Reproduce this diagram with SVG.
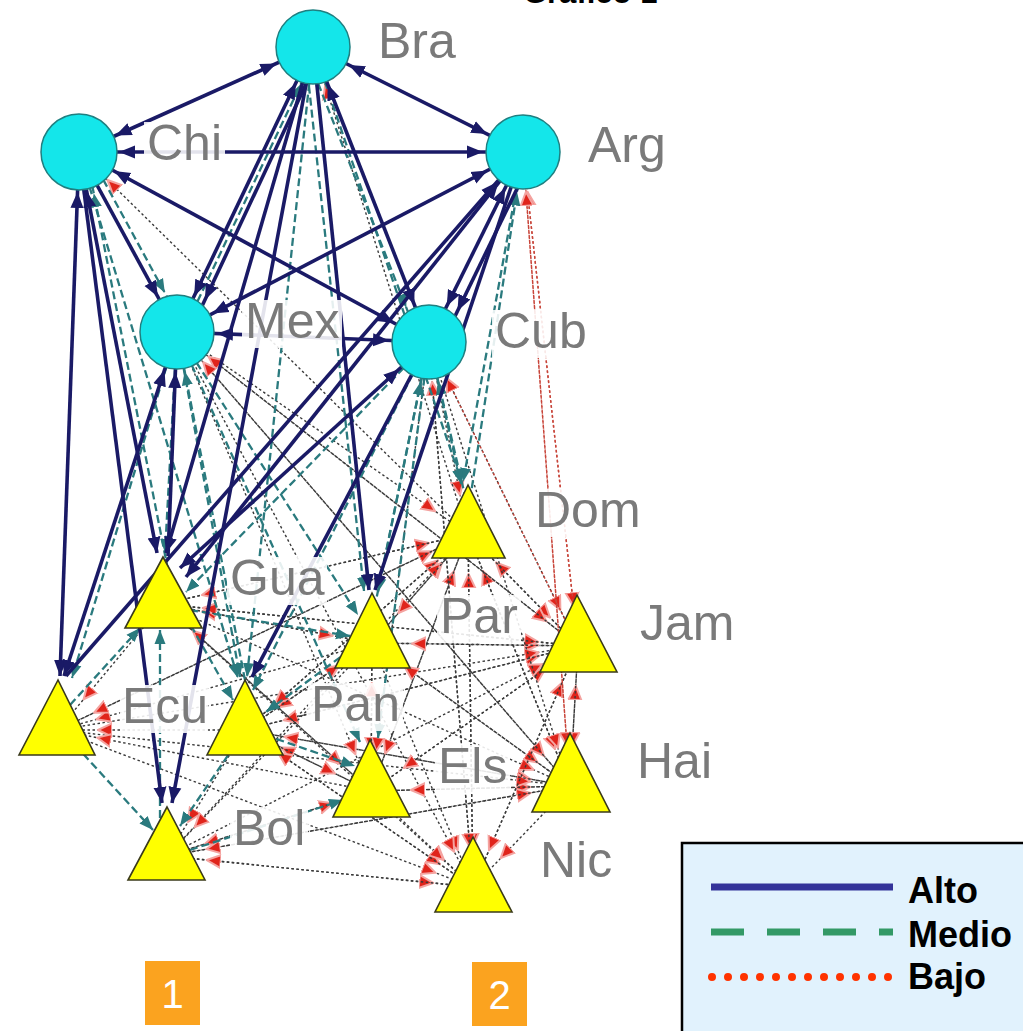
<svg xmlns="http://www.w3.org/2000/svg" width="1023" height="1031" viewBox="0 0 1023 1031">
<style>
.a{fill:none;stroke:#1a1a66;stroke-width:3.6}
.m{fill:none;stroke:#2a7a7e;stroke-width:2.3;stroke-dasharray:8 4}
.b{fill:none;stroke:#3a3a3a;stroke-width:1.4;stroke-dasharray:2.5 2.5}
.br{stroke:#c8453a}
.ci{fill:#14e6ea;stroke:#1f7f80;stroke-width:1.5}
.tr{fill:#ffff00;stroke:#3a3a1a;stroke-width:1.6}
.lb{fill:#ffffff;fill-opacity:.88}
.lt{font-family:"Liberation Sans",Arial,sans-serif;font-size:50px;fill:#7a7a7a}
.lg{font-family:"Liberation Sans",Arial,sans-serif;font-size:36px;font-weight:bold;fill:#000}
.num{font-family:"Liberation Sans",Arial,sans-serif;font-size:40px;fill:#fff;text-anchor:middle}
</style>
<defs>
<marker id="nF" viewBox="0 -9 60 18" markerWidth="60" markerHeight="18" refX="56" refY="0" markerUnits="userSpaceOnUse" orient="auto-start-reverse"><path d="M0,-6.5 L16,0 L0,6.5 z" fill="#1a1a66"/></marker>
<marker id="nN" viewBox="0 -9 20 18" markerWidth="20" markerHeight="18" refX="16" refY="0" markerUnits="userSpaceOnUse" orient="auto-start-reverse"><path d="M0,-6.5 L16,0 L0,6.5 z" fill="#1a1a66"/></marker>
<marker id="tF" viewBox="0 -8 60 16" markerWidth="60" markerHeight="16" refX="54" refY="0" markerUnits="userSpaceOnUse" orient="auto-start-reverse"><path d="M0,-5.5 L14,0 L0,5.5 z" fill="#2a7a7e"/></marker>
<marker id="tN" viewBox="0 -8 20 16" markerWidth="20" markerHeight="16" refX="14" refY="0" markerUnits="userSpaceOnUse" orient="auto-start-reverse"><path d="M0,-5.5 L14,0 L0,5.5 z" fill="#2a7a7e"/></marker>
<marker id="rF" viewBox="0 -10 60 20" markerWidth="60" markerHeight="20" refX="54" refY="0" markerUnits="userSpaceOnUse" orient="auto-start-reverse"><path d="M0,-6.5 L14,0 L0,6.5 z" fill="#e0241b" stroke="#f4a3a0" stroke-width="2" stroke-linejoin="round"/></marker>
</defs>
<rect width="1023" height="1031" fill="#ffffff"/>
<text x="523" y="3" font-family="'Liberation Sans',Arial,sans-serif" font-weight="bold" font-size="31" fill="#000">Gráfico 1</text>

<g id="connectors">
<g id="bajo" marker-end="url(#rF)">
<path class="b" d="M372,643 L468,534"/>
<path class="b" d="M473,887 L468,534"/>
<path class="b" d="M570,786 L468,534"/>
<path class="b" d="M371,791 L468,534"/>
<path class="b" d="M578,646 L468,534"/>
<path class="b" d="M245,730 L468,534"/>
<path class="b" d="M167,856 L468,534"/>
<path class="b" d="M58,730 L468,534"/>
<path class="b" d="M163,604 L468,534"/>
<path class="b" d="M177,332 L468,534"/>
<path class="b" d="M429,342 L468,534"/>
<path class="b" d="M372,643 L578,646"/>
<path class="b" d="M245,730 L578,646"/>
<path class="b" d="M163,604 L578,646"/>
<path class="b" d="M58,730 L578,646"/>
<path class="b" d="M371,791 L578,646"/>
<path class="b" d="M167,856 L578,646"/>
<path class="b" d="M468,534 L578,646"/>
<path class="b" d="M177,332 L578,646"/>
<path class="b" d="M429,342 L578,646"/>
<path class="b br" d="M523,152 L578,646"/>
<path class="b" d="M570,786 L578,646"/>
<path class="b" d="M473,887 L578,646"/>
<path class="b" d="M468,534 L570,786"/>
<path class="b" d="M372,643 L570,786"/>
<path class="b" d="M245,730 L570,786"/>
<path class="b" d="M371,791 L570,786"/>
<path class="b" d="M163,604 L570,786"/>
<path class="b" d="M578,646 L570,786"/>
<path class="b" d="M429,342 L570,786"/>
<path class="b" d="M177,332 L570,786"/>
<path class="b" d="M167,856 L570,786"/>
<path class="b" d="M58,730 L570,786"/>
<path class="b br" d="M523,152 L570,786"/>
<path class="b" d="M371,791 L473,887"/>
<path class="b" d="M372,643 L473,887"/>
<path class="b" d="M245,730 L473,887"/>
<path class="b" d="M167,856 L473,887"/>
<path class="b" d="M468,534 L473,887"/>
<path class="b" d="M578,646 L473,887"/>
<path class="b" d="M570,786 L473,887"/>
<path class="b" d="M163,604 L473,887"/>
<path class="b" d="M58,730 L473,887"/>
<path class="b" d="M429,342 L473,887"/>
<path class="b" d="M177,332 L473,887"/>
<path class="b" d="M372,643 L245,730"/>
<path class="b" d="M371,791 L245,730"/>
<path class="b" d="M468,534 L245,730"/>
<path class="b" d="M473,887 L245,730"/>
<path class="b" d="M578,646 L245,730"/>
<path class="b" d="M570,786 L245,730"/>
<path class="b" d="M245,730 L371,791"/>
<path class="b" d="M163,604 L371,791"/>
<path class="b" d="M167,856 L371,791"/>
<path class="b" d="M578,646 L371,791"/>
<path class="b" d="M570,786 L371,791"/>
<path class="b" d="M468,534 L371,791"/>
<path class="b" d="M372,643 L371,791"/>
<path class="b" d="M429,342 L371,791"/>
<path class="b" d="M177,332 L371,791"/>
<path class="b" d="M372,643 L163,604"/>
<path class="b" d="M468,534 L163,604"/>
<path class="b" d="M578,646 L163,604"/>
<path class="b" d="M371,791 L163,604"/>
<path class="b" d="M163,604 L58,730"/>
<path class="b" d="M245,730 L58,730"/>
<path class="b" d="M372,643 L58,730"/>
<path class="b" d="M371,791 L58,730"/>
<path class="b" d="M468,534 L58,730"/>
<path class="b" d="M371,791 L167,856"/>
<path class="b" d="M473,887 L167,856"/>
<path class="b" d="M245,730 L167,856"/>
<path class="b" d="M372,643 L167,856"/>
<path class="b" d="M570,786 L167,856"/>
<path class="b" d="M163,604 L372,643"/>
<path class="b" d="M245,730 L372,643"/>
<path class="b" d="M468,534 L372,643"/>
<path class="b" d="M578,646 L372,643"/>
<path class="b" d="M570,786 L372,643"/>
<path class="b" d="M371,791 L372,643"/>
<path class="b" d="M468,534 L313,47"/>
<path class="b" d="M468,534 L79,152"/>
<path class="b" d="M578,646 L177,332"/>
<path class="b" d="M570,786 L177,332"/>
<path class="b br" d="M578,646 L429,342"/>
<path class="b br" d="M578,646 L523,152"/>
<path class="b br" d="M570,786 L523,152"/>
<path class="b" d="M473,887 L429,342"/>
</g>
<g id="medio">
<path class="m" d="M523,152 L463,482" marker-end="url(#tN)"/>
<path class="m" d="M429,342 L461,484" marker-end="url(#tN)"/>
<path class="m" d="M429,342 L378,592" marker-end="url(#tN)"/>
<path class="m" d="M429,342 L186,592" marker-end="url(#tN)"/>
<path class="m" d="M429,342 L253,690" marker-end="url(#tN)"/>
<path class="m" d="M177,332 L165,553" marker-end="url(#tN)"/>
<path class="m" d="M177,332 L240,677" marker-end="url(#tN)"/>
<path class="m" d="M177,332 L358,615" marker-end="url(#tN)"/>
<path class="m" d="M86,148 L184,328" marker-end="url(#tF)"/>
<path class="m" d="M79,152 L238,678" marker-end="url(#tN)"/>
<path class="m" d="M305,50 L364,591" marker-end="url(#tN)"/>
<path class="m" d="M305,50 L421,345" marker-end="url(#tF)"/>
<path class="m" d="M313,47 L462,483" marker-end="url(#tN)"/>
<path class="m" d="M185,615 L233,700" marker-end="url(#tN)"/>
<path class="m" d="M75,745 L153,830" marker-end="url(#tN)"/>
<path class="m" d="M235,745 L180,826" marker-end="url(#tN)"/>
<path class="m" d="M70,705 L140,628" marker-end="url(#tN)"/>
<path class="m" d="M160,830 L160,630" marker-end="url(#tN)"/>
<path class="m" d="M190,850 L343,800" marker-end="url(#tN)"/>
<path class="m" d="M265,735 L355,766" marker-end="url(#tN)"/>
<path class="m" d="M350,650 L266,712" marker-end="url(#tN)"/>
<path class="m" d="M177,332 L72,678" marker-end="url(#tN)"/>
<path class="m" d="M429,342 L378,738" marker-end="url(#tN)"/>
<path class="m" d="M177,332 L360,742" marker-end="url(#tN)"/>
<path class="m" d="M245,680 L177,332" marker-end="url(#tF)"/>
<path class="m" d="M372,620 L429,342" marker-end="url(#tF)"/>
<path class="m" d="M466,500 L429,342" marker-end="url(#tF)"/>
<path class="m" d="M168,570 L86,154" marker-end="url(#tF)"/>
<path class="m" d="M470,500 L523,152" marker-end="url(#tF)"/>
<path class="m" d="M182,334 L318,48" marker-end="url(#tF)"/>
<path class="m" d="M190,610 L350,636" marker-end="url(#tN)"/>
<path class="m" d="M313,47 L247,677" marker-end="url(#tN)"/>
</g>
<g id="alto">
<path class="a" d="M79,152 L313,47" marker-start="url(#nF)" marker-end="url(#nF)"/>
<path class="a" d="M313,47 L523,152" marker-start="url(#nF)" marker-end="url(#nF)"/>
<path class="a" d="M79,152 L523,152" marker-start="url(#nF)" marker-end="url(#nF)"/>
<path class="a" d="M79,152 L429,342" marker-start="url(#nF)" marker-end="url(#nF)"/>
<path class="a" d="M523,152 L177,332" marker-start="url(#nF)" marker-end="url(#nF)"/>
<path class="a" d="M313,47 L177,332" marker-start="url(#nF)" marker-end="url(#nF)"/>
<path class="a" d="M322,50 L188,336" marker-end="url(#nF)"/>
<path class="a" d="M313,47 L429,342" marker-start="url(#nF)" marker-end="url(#nF)"/>
<path class="a" d="M523,152 L429,342" marker-start="url(#nF)" marker-end="url(#nF)"/>
<path class="a" d="M532,158 L440,347" marker-end="url(#nF)"/>
<path class="a" d="M177,332 L429,342" marker-start="url(#nF)" marker-end="url(#nF)"/>
<path class="a" d="M79,152 L177,332" marker-end="url(#nF)"/>
<path class="a" d="M523,152 L375,590" marker-end="url(#nN)"/>
<path class="a" d="M313,47 L369,590" marker-end="url(#nN)"/>
<path class="a" d="M429,342 L180,568" marker-start="url(#nF)" marker-end="url(#nN)"/>
<path class="a" d="M523,152 L186,577" marker-start="url(#nF)" marker-end="url(#nN)"/>
<path class="a" d="M79,152 L60,676" marker-start="url(#nF)" marker-end="url(#nN)"/>
<path class="a" d="M79,152 L157,553" marker-start="url(#nF)" marker-end="url(#nN)"/>
<path class="a" d="M79,152 L162,803" marker-end="url(#nN)"/>
<path class="a" d="M313,47 L172,803" marker-end="url(#nN)"/>
<path class="a" d="M177,332 L64,676" marker-start="url(#nF)" marker-end="url(#nN)"/>
<path class="a" d="M66,676 L523,152" marker-end="url(#nF)"/>
<path class="a" d="M313,47 L166,553" marker-end="url(#nN)"/>
<path class="a" d="M168,556 L177,332" marker-end="url(#nF)"/>
<path class="a" d="M429,342 L252,677" marker-end="url(#nN)"/>
</g>
</g>

<g id="node-Bra"><circle class="ci" cx="313" cy="47" r="37"/><rect class="lb" x="375" y="20" width="84" height="48"/><text class="lt" x="378" y="58">Bra</text></g>
<g id="node-Chi"><circle class="ci" cx="79" cy="152" r="38"/><rect class="lb" x="144" y="122" width="81" height="48"/><text class="lt" x="147" y="160">Chi</text></g>
<g id="node-Arg"><circle class="ci" cx="523" cy="152" r="37"/><rect class="lb" x="585" y="124" width="84" height="50"/><text class="lt" x="588" y="162">Arg</text></g>
<g id="node-Mex"><circle class="ci" cx="177" cy="332" r="37"/><rect class="lb" x="242" y="300" width="100" height="48"/><text class="lt" x="245" y="338">Mex</text></g>
<g id="node-Cub"><circle class="ci" cx="429" cy="342" r="37"/><rect class="lb" x="492" y="310" width="98" height="48"/><text class="lt" x="495" y="348">Cub</text></g>
<g id="node-Dom"><polygon class="tr" points="468,485 432,558 505,558"/><rect class="lb" x="532" y="489" width="112" height="48"/><text class="lt" x="535" y="527">Dom</text></g>
<g id="node-Gua"><polygon class="tr" points="163,557 125,628 202,628"/><rect class="lb" x="227" y="557" width="100" height="48"/><text class="lt" x="230" y="595">Gua</text></g>
<g id="node-Par"><polygon class="tr" points="372,593 335,668 410,668"/><rect class="lb" x="437" y="595" width="84" height="48"/><text class="lt" x="440" y="633">Par</text></g>
<g id="node-Jam"><polygon class="tr" points="577,595 540,672 617,672"/><rect class="lb" x="637" y="602" width="100" height="48"/><text class="lt" x="640" y="640">Jam</text></g>
<g id="node-Ecu"><polygon class="tr" points="58,680 19,755 95,755"/><rect class="lb" x="120" y="685" width="88" height="48"/><text class="lt" x="122" y="723">Ecu</text></g>
<g id="node-Pan"><polygon class="tr" points="245,680 207,755 283,755"/><rect class="lb" x="308" y="683" width="95" height="48"/><text class="lt" x="311" y="721">Pan</text></g>
<g id="node-Els"><polygon class="tr" points="370,740 333,817 410,817"/><rect class="lb" x="435" y="745" width="75" height="48"/><text class="lt" x="438" y="783">Els</text></g>
<g id="node-Hai"><polygon class="tr" points="570,733 532,812 610,812"/><rect class="lb" x="634" y="740" width="81" height="48"/><text class="lt" x="637" y="778">Hai</text></g>
<g id="node-Bol"><polygon class="tr" points="167,807 128,880 205,880"/><rect class="lb" x="230" y="807" width="78" height="48"/><text class="lt" x="233" y="845">Bol</text></g>
<g id="node-Nic"><polygon class="tr" points="473,837 435,912 512,912"/><rect class="lb" x="537" y="839" width="78" height="48"/><text class="lt" x="540" y="877">Nic</text></g>

<g id="legend">
<rect x="682" y="843" width="360" height="200" fill="#e1f2fd" stroke="#000" stroke-width="2.5"/>
<line x1="711" y1="887" x2="893" y2="887" stroke="#333399" stroke-width="7"/>
<line x1="711" y1="932" x2="893" y2="932" stroke="#339966" stroke-width="7" stroke-dasharray="33 23"/>
<line x1="712" y1="977" x2="889" y2="977" stroke="#ff3300" stroke-width="8" stroke-linecap="round" stroke-dasharray="0 16"/>
<text class="lg" x="908" y="903">Alto</text>
<text class="lg" x="908" y="947">Medio</text>
<text class="lg" x="908" y="989">Bajo</text>
</g>

<g id="box-1"><rect x="145" y="961" width="55" height="64" fill="#fba31f"/><text class="num" x="172.5" y="1008">1</text></g>
<g id="box-2"><rect x="472" y="962" width="55" height="64" fill="#fba31f"/><text class="num" x="499.5" y="1009">2</text></g>
</svg>
